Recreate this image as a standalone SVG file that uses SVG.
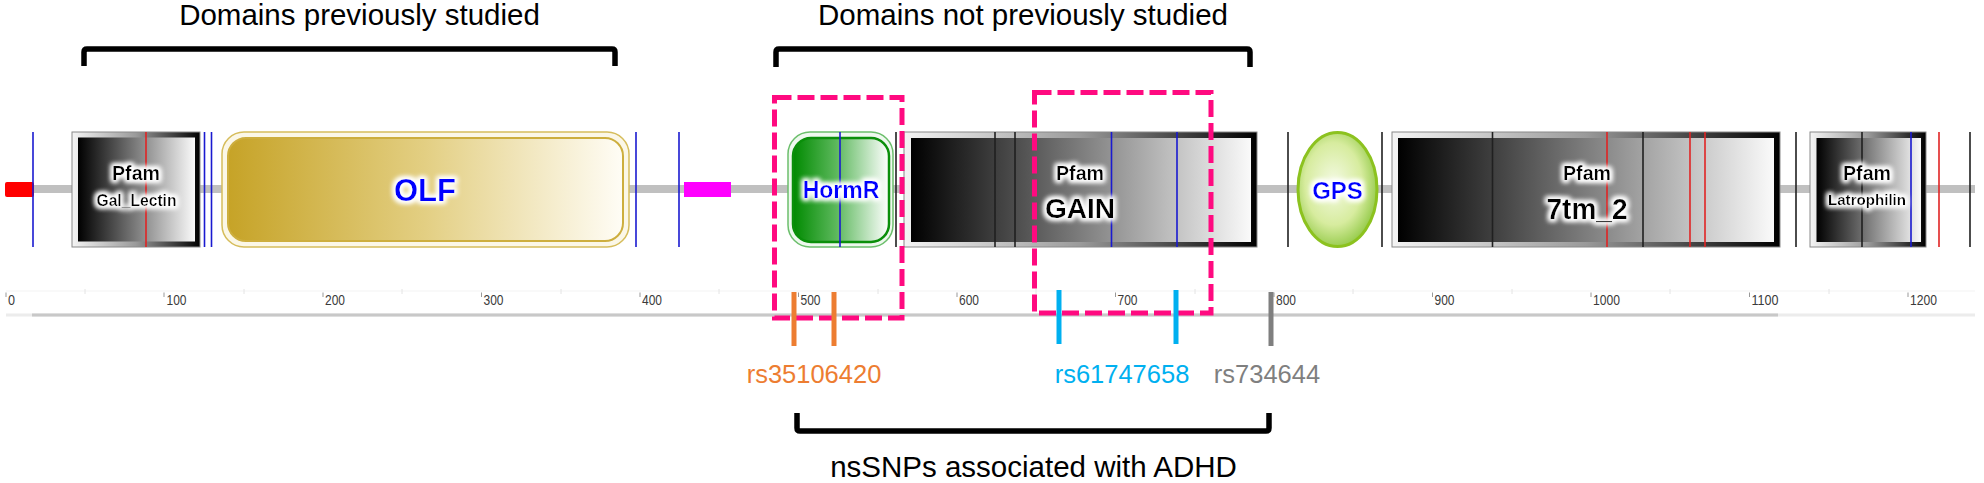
<svg xmlns="http://www.w3.org/2000/svg" width="1984" height="483" viewBox="0 0 1984 483">
<style>
.lbl{font-family:"Liberation Sans",Arial,sans-serif;fill:#000}
.big{font-size:29.5px}
.tick{font-family:"Liberation Sans",Arial,sans-serif;font-size:15px;fill:#3a3a3a}
.pf{font-family:"Liberation Sans",Arial,sans-serif;font-weight:bold;fill:#000;text-anchor:middle}
.dn{font-family:"Liberation Sans",Arial,sans-serif;font-weight:bold;fill:#0000ff;text-anchor:middle}
.snp{font-family:"Liberation Sans",Arial,sans-serif;font-size:25.5px;text-anchor:middle}
.vb{stroke:#1a1ad0;stroke-width:1.6}
.vr{stroke:#e02424;stroke-width:1.6}
.vk{stroke:#202020;stroke-width:1.6}
.brk{fill:none;stroke:#000;stroke-width:5.5;stroke-linejoin:round}
.hl{fill:none;stroke:#ff0a80;stroke-width:5;stroke-dasharray:17 6}
.frame{fill:url(#frameG);stroke:#8a8a8a;stroke-width:1}
.inner{fill:url(#bwG)}
.mt{stroke:#999;stroke-width:1}
.nt{stroke:#e4e4e4;stroke-width:1}
</style>
<defs>
<linearGradient id="bwG" x1="0" y1="0" x2="1" y2="0">
<stop offset="0" stop-color="#000"/><stop offset="1" stop-color="#fafafa"/>
</linearGradient>
<linearGradient id="frameG" x1="0" y1="0" x2="1" y2="0">
<stop offset="0" stop-color="#f4f4f4"/><stop offset="0.5" stop-color="#9a9a9a"/><stop offset="1" stop-color="#000"/>
</linearGradient>
<linearGradient id="olfG" x1="0" y1="0" x2="1" y2="0">
<stop offset="0" stop-color="#c6a327"/><stop offset="0.5" stop-color="#e3cf83"/><stop offset="1" stop-color="#fffdf6"/>
</linearGradient>
<linearGradient id="hrG" x1="0" y1="0" x2="1" y2="0">
<stop offset="0" stop-color="#008a00"/><stop offset="0.45" stop-color="#5cb85c"/><stop offset="1" stop-color="#ffffff"/>
</linearGradient>
<radialGradient id="gpsG" cx="0.45" cy="0.45" r="0.6">
<stop offset="0" stop-color="#f4fae4"/><stop offset="0.6" stop-color="#d7ec9f"/><stop offset="1" stop-color="#8cc63f"/>
</radialGradient>
<filter id="glow" x="-20%" y="-40%" width="140%" height="180%">
<feMorphology in="SourceAlpha" operator="dilate" radius="2" result="d"/>
<feGaussianBlur in="d" stdDeviation="2.5" result="b"/>
<feFlood flood-color="#fff"/>
<feComposite in2="b" operator="in" result="w"/>
<feMerge><feMergeNode in="w"/><feMergeNode in="w"/><feMergeNode in="SourceGraphic"/></feMerge>
</filter>
</defs>
<rect width="1984" height="483" fill="#fff"/>

<g id="connectors">
<rect x="6" y="185" width="1969" height="8" fill="#c0c0c0"/>
</g>

<g id="scale">
<line x1="6" y1="291" x2="1975" y2="291" stroke="#f3f3f3" stroke-width="1"/>
<rect x="6" y="313.5" width="1969" height="3" fill="#ececec"/>
<rect x="32" y="313.5" width="1746" height="3" fill="#c8c8c8"/>
<g class="nt">
<line x1="85" y1="289" x2="85" y2="294"/><line x1="244" y1="289" x2="244" y2="294"/><line x1="402" y1="289" x2="402" y2="294"/><line x1="561" y1="289" x2="561" y2="294"/><line x1="719" y1="289" x2="719" y2="294"/><line x1="878" y1="289" x2="878" y2="294"/><line x1="1036" y1="289" x2="1036" y2="294"/><line x1="1195" y1="289" x2="1195" y2="294"/><line x1="1353" y1="289" x2="1353" y2="294"/><line x1="1512" y1="289" x2="1512" y2="294"/><line x1="1670" y1="289" x2="1670" y2="294"/><line x1="1829" y1="289" x2="1829" y2="294"/>
</g>
<g class="mt">
<line x1="6" y1="292.5" x2="6" y2="297"/><line x1="164" y1="292.5" x2="164" y2="297"/><line x1="323" y1="292.5" x2="323" y2="297"/><line x1="481.5" y1="292.5" x2="481.5" y2="297"/><line x1="640" y1="292.5" x2="640" y2="297"/><line x1="798.5" y1="292.5" x2="798.5" y2="297"/><line x1="957" y1="292.5" x2="957" y2="297"/><line x1="1115.5" y1="292.5" x2="1115.5" y2="297"/><line x1="1274" y1="292.5" x2="1274" y2="297"/><line x1="1432.5" y1="292.5" x2="1432.5" y2="297"/><line x1="1591" y1="292.5" x2="1591" y2="297"/><line x1="1749.5" y1="292.5" x2="1749.5" y2="297"/><line x1="1908" y1="292.5" x2="1908" y2="297"/>
</g>
<text class="tick" x="8" y="305" textLength="7" lengthAdjust="spacingAndGlyphs">0</text>
<text class="tick" x="166.5" y="305" textLength="20" lengthAdjust="spacingAndGlyphs">100</text>
<text class="tick" x="325" y="305" textLength="20" lengthAdjust="spacingAndGlyphs">200</text>
<text class="tick" x="483.5" y="305" textLength="20" lengthAdjust="spacingAndGlyphs">300</text>
<text class="tick" x="642" y="305" textLength="20" lengthAdjust="spacingAndGlyphs">400</text>
<text class="tick" x="800.5" y="305" textLength="20" lengthAdjust="spacingAndGlyphs">500</text>
<text class="tick" x="959" y="305" textLength="20" lengthAdjust="spacingAndGlyphs">600</text>
<text class="tick" x="1117.5" y="305" textLength="20" lengthAdjust="spacingAndGlyphs">700</text>
<text class="tick" x="1276" y="305" textLength="20" lengthAdjust="spacingAndGlyphs">800</text>
<text class="tick" x="1434.5" y="305" textLength="20" lengthAdjust="spacingAndGlyphs">900</text>
<text class="tick" x="1593" y="305" textLength="27" lengthAdjust="spacingAndGlyphs">1000</text>
<text class="tick" x="1751.5" y="305" textLength="27" lengthAdjust="spacingAndGlyphs">1100</text>
<text class="tick" x="1910" y="305" textLength="27" lengthAdjust="spacingAndGlyphs">1200</text>
</g>

<g id="signal">
<rect x="5" y="182" width="29" height="15" rx="2" fill="#ff0000"/>
</g>
<g id="lowcomplexity">
<rect x="684" y="182" width="47" height="15" fill="#ff00ff"/>
</g>

<g id="sites">
<line class="vb" x1="33" y1="132" x2="33" y2="247"/>
<line class="vb" x1="204.5" y1="132" x2="204.5" y2="247"/>
<line class="vb" x1="211.5" y1="132" x2="211.5" y2="247"/>
<line class="vb" x1="636" y1="132" x2="636" y2="247"/>
<line class="vb" x1="679" y1="132" x2="679" y2="247"/>
<line class="vk" x1="896" y1="132" x2="896" y2="247"/>
<line class="vk" x1="1288" y1="132" x2="1288" y2="247"/>
<line class="vk" x1="1382" y1="132" x2="1382" y2="247"/>
<line class="vk" x1="1796" y1="132" x2="1796" y2="247"/>
<line class="vr" x1="1939" y1="132" x2="1939" y2="247"/>
<line class="vk" x1="1970" y1="132" x2="1970" y2="247"/>
</g>

<g id="gal_lectin">
<rect class="frame" x="72" y="132" width="128" height="115"/>
<rect class="inner" x="78" y="137.5" width="117" height="104"/>
<line class="vr" x1="146" y1="132" x2="146" y2="247"/>
<text class="pf" x="136" y="180" font-size="21" textLength="48" lengthAdjust="spacingAndGlyphs" filter="url(#glow)">Pfam</text>
<text class="pf" x="136.5" y="205.5" font-size="16" textLength="80" lengthAdjust="spacingAndGlyphs" filter="url(#glow)">Gal_Lectin</text>
</g>

<g id="olf">
<rect x="222" y="132" width="407" height="115" rx="22" fill="#fbf7e7" stroke="#d6bd5c" stroke-width="1.5"/>
<rect x="228" y="138" width="395" height="103" rx="18" fill="url(#olfG)" stroke="#cdae3e" stroke-width="2"/>
<text class="dn" x="425" y="201" font-size="31" filter="url(#glow)">OLF</text>
</g>

<g id="hormr">
<rect x="788" y="132" width="105" height="115" rx="22" fill="#eef8ee" stroke="#6cbf6c" stroke-width="1.5"/>
<rect x="793" y="138" width="96" height="104" rx="18" fill="url(#hrG)" stroke="#0a8f0a" stroke-width="2.5"/>
<line class="vb" x1="840" y1="132" x2="840" y2="247"/>
<text class="dn" x="841" y="198" font-size="23" filter="url(#glow)">HormR</text>
</g>

<g id="gain">
<rect class="frame" x="904" y="132" width="353" height="115"/>
<rect class="inner" x="911" y="138" width="340" height="104"/>
<line class="vk" x1="995" y1="132" x2="995" y2="247"/>
<line class="vk" x1="1015" y1="132" x2="1015" y2="247"/>
<line class="vb" x1="1111.5" y1="132" x2="1111.5" y2="247"/>
<line class="vb" x1="1177" y1="132" x2="1177" y2="247"/>
<text class="pf" x="1080" y="180" font-size="19.5" textLength="48" lengthAdjust="spacingAndGlyphs" filter="url(#glow)">Pfam</text>
<text class="pf" x="1080" y="218" font-size="28" filter="url(#glow)">GAIN</text>
</g>

<g id="gps">
<ellipse cx="1337.5" cy="189.5" rx="39.5" ry="57" fill="url(#gpsG)" stroke="#8cc21f" stroke-width="3"/>
<text class="dn" x="1337.5" y="198.5" font-size="24" filter="url(#glow)">GPS</text>
</g>

<g id="tm7_2">
<rect class="frame" x="1392" y="132" width="388" height="115"/>
<rect class="inner" x="1398" y="138" width="376" height="104"/>
<line class="vk" x1="1492.5" y1="132" x2="1492.5" y2="247"/>
<line class="vr" x1="1607" y1="132" x2="1607" y2="247"/>
<line class="vk" x1="1643" y1="132" x2="1643" y2="247"/>
<line class="vr" x1="1690" y1="132" x2="1690" y2="247"/>
<line class="vr" x1="1705" y1="132" x2="1705" y2="247"/>
<text class="pf" x="1587" y="179.5" font-size="19.5" textLength="48" lengthAdjust="spacingAndGlyphs" filter="url(#glow)">Pfam</text>
<text class="pf" x="1587" y="218.5" font-size="29" textLength="81" lengthAdjust="spacingAndGlyphs" filter="url(#glow)">7tm_2</text>
</g>

<g id="latrophilin">
<rect class="frame" x="1810" y="132" width="116" height="115"/>
<rect class="inner" x="1816.5" y="138" width="104.5" height="104"/>
<line class="vk" x1="1862" y1="132" x2="1862" y2="247"/>
<line class="vb" x1="1911" y1="132" x2="1911" y2="247"/>
<text class="pf" x="1867" y="180" font-size="20" textLength="48" lengthAdjust="spacingAndGlyphs" filter="url(#glow)">Pfam</text>
<text class="pf" x="1867" y="205" font-size="15.5" textLength="78" lengthAdjust="spacingAndGlyphs" filter="url(#glow)">Latrophilin</text>
</g>

<g id="highlight_hormr">
<rect class="hl" x="774.5" y="97.5" width="127.5" height="220.5"/>
</g>
<g id="highlight_gain">
<rect class="hl" x="1034.5" y="92.5" width="176.5" height="220.5"/>
</g>

<g id="snp_rs35106420">
<line x1="794" y1="292" x2="794" y2="346" stroke="#ed7d31" stroke-width="5"/>
<line x1="834" y1="292" x2="834" y2="346" stroke="#ed7d31" stroke-width="5"/>
<text class="snp" x="814" y="383" fill="#ed7d31">rs35106420</text>
</g>
<g id="snp_rs61747658">
<line x1="1059" y1="290" x2="1059" y2="344" stroke="#00b0f0" stroke-width="5"/>
<line x1="1176" y1="290" x2="1176" y2="344" stroke="#00b0f0" stroke-width="5"/>
<text class="snp" x="1122" y="383" fill="#00b0f0">rs61747658</text>
</g>
<g id="snp_rs734644">
<line x1="1271" y1="292" x2="1271" y2="346" stroke="#7f7f7f" stroke-width="5"/>
<text class="snp" x="1267" y="383" fill="#7f7f7f">rs734644</text>
</g>

<g id="annot_previous">
<path class="brk" d="M84 66 V52 Q84 49 87 49 H612 Q615 49 615 52 V66"/>
<text class="lbl big" x="359.5" y="25" text-anchor="middle">Domains previously studied</text>
</g>
<g id="annot_not_previous">
<path class="brk" d="M776 67 V52 Q776 49 779 49 H1247 Q1250 49 1250 52 V67"/>
<text class="lbl big" x="1023" y="25" text-anchor="middle">Domains not previously studied</text>
</g>
<g id="annot_adhd">
<path class="brk" d="M797 413 V428 Q797 431 800 431 H1266 Q1269 431 1269 428 V413"/>
<text class="lbl big" x="1033.5" y="477" text-anchor="middle" font-size="29">nsSNPs associated with ADHD</text>
</g>
</svg>
